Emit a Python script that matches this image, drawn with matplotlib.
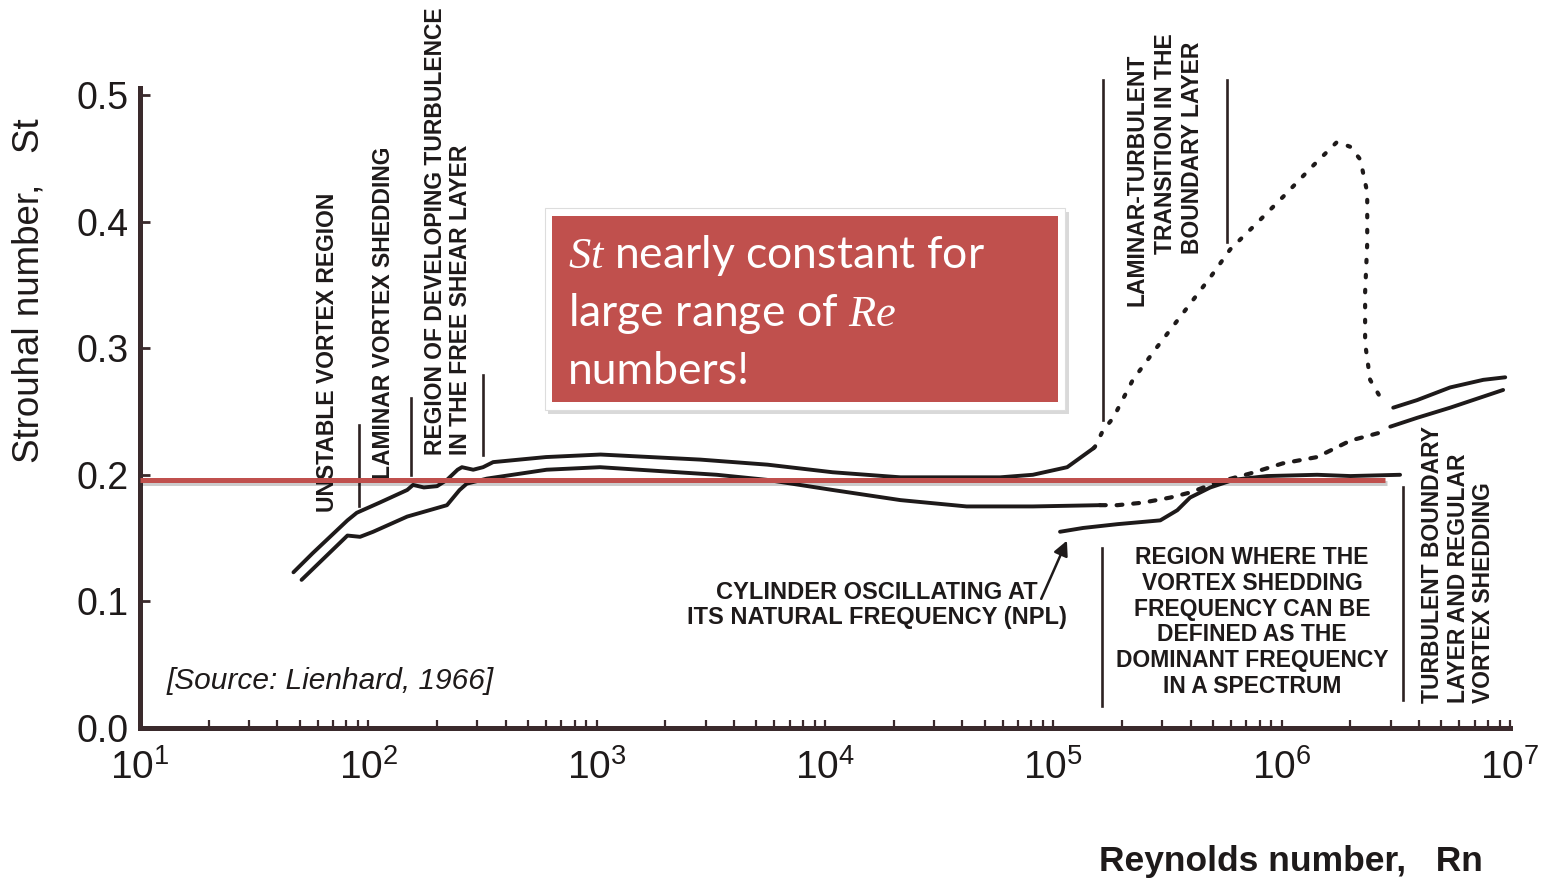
import matplotlib
matplotlib.use('Agg')
import matplotlib.pyplot as plt
import matplotlib.patheffects as pe
from matplotlib.patches import Rectangle
from matplotlib.ticker import LogLocator, FixedLocator, NullFormatter

plt.rcParams['font.family'] = ['Liberation Sans', 'DejaVu Sans']
plt.rcParams['mathtext.fontset'] = 'custom'
plt.rcParams['mathtext.rm'] = 'Liberation Sans'
plt.rcParams['mathtext.it'] = 'Liberation Serif:italic'
plt.rcParams['mathtext.bf'] = 'Liberation Sans:bold'

ink = '#1e1a1a'
axis_col = '#3a2a2c'
red = '#C0504D'

# upper edge of the measured band
re_top = [47, 57, 81, 89, 112, 148, 157, 175, 200, 221, 246, 257, 288, 318, 352,
          600, 1040, 2840, 5600, 10800, 21400, 58500, 81300, 115000, 150000]
st_top = [0.123, 0.138, 0.164, 0.170, 0.178, 0.188, 0.192, 0.190, 0.191, 0.196, 0.204,
          0.206, 0.204, 0.206, 0.210, 0.214, 0.216, 0.212, 0.208, 0.202, 0.198, 0.198,
          0.200, 0.206, 0.221]

# lower edge of the measured band
re_bot = [51, 81, 92, 105, 148, 221, 251, 270, 331, 604, 1035, 3360, 5570, 10800,
          21400, 41700, 81300, 160000]
st_bot = [0.117, 0.152, 0.151, 0.155, 0.167, 0.176, 0.188, 0.193, 0.197, 0.204, 0.206,
          0.200, 0.196, 0.188, 0.180, 0.175, 0.175, 0.176]

# transition branch, upper (dotted)
re_tr_hi = [150000, 152000, 165000, 183000, 223000, 285000, 371000, 487000, 595000,
            781000, 1.02e6, 1.37e6, 1.75e6, 2.0e6, 2.21e6, 2.37e6, 2.37e6, 2.32e6,
            2.32e6, 2.44e6, 2.79e6]
st_tr_hi = [0.221, 0.222, 0.235, 0.245, 0.275, 0.301, 0.328, 0.356, 0.378, 0.399, 0.420,
            0.444, 0.463, 0.459, 0.449, 0.423, 0.383, 0.344, 0.304, 0.275, 0.257]

# transition branch, lower (dashed)
re_tr_lo = [160000, 191000, 247000, 325000, 397000, 521000, 727000, 1.01e6, 1.43e6,
            2.0e6, 2.79e6]
st_tr_lo = [0.176, 0.176, 0.178, 0.182, 0.186, 0.194, 0.201, 0.209, 0.214, 0.227, 0.234]

# supercritical band
re_sup_hi = [3.08e6, 3.92e6, 5.47e6, 7.64e6, 9.53e6]
st_sup_hi = [0.253, 0.259, 0.269, 0.275, 0.277]
re_sup_lo = [2.99e6, 3.92e6, 5.47e6, 9.33e6]
st_sup_lo = [0.238, 0.245, 0.253, 0.267]

# oscillating cylinder (NPL)
re_npl = [107000, 135000, 191000, 294000, 349000, 397000, 487000, 614000, 863000,
          1.43e6, 2.0e6, 3.3e6]
st_npl = [0.155, 0.158, 0.161, 0.164, 0.172, 0.182, 0.190, 0.196, 0.199, 0.200,
          0.199, 0.200]

# regime separators: (Re, St from, St to)
separators = [(91, 0.175, 0.239), (154, 0.200, 0.261), (318, 0.216, 0.279),
              (165000, 0.243, 0.512), (577000, 0.384, 0.512),
              (164000, 0.017, 0.142), (3.4e6, 0.022, 0.190)]

st_const = 0.196
re_const = [10, 2.84e6]

x_major = [1e1, 1e2, 1e3, 1e4, 1e5, 1e6, 1e7]
y_major = [0, 0.1, 0.2, 0.3, 0.4, 0.5]
y_labels = ['0.0', '0.1', '0.2', '0.3', '0.4', '0.5']

W, H = 1546, 882
fig = plt.figure(figsize=(W / 100, H / 100), dpi=100)
ax = fig.add_axes([140 / W, 154 / H, 1370 / W, 640 / H])
ax.set_xscale('log')
ax.set_xlim(10, 1e7)
ax.set_ylim(0, 0.5055)

solid = dict(color=ink, lw=2.8, solid_capstyle='round', solid_joinstyle='round')
ax.plot(re_top, st_top, **solid)
ax.plot(re_bot, st_bot, **solid)
ax.plot(re_sup_hi, st_sup_hi, **solid)
ax.plot(re_sup_lo, st_sup_lo, **solid)
ax.plot(re_npl, st_npl, **solid)
ax.plot(re_tr_hi, st_tr_hi, color=ink, lw=3, linestyle=(0, (0.6, 3.0)),
        dash_capstyle='round')
ax.plot(re_tr_lo, st_tr_lo, color=ink, lw=3, linestyle=(0, (1.4, 2.6)),
        dash_capstyle='round')

for re_s, y0, y1 in separators:
    ax.plot([re_s, re_s], [y0, y1], color='#2d2222', lw=1.9, clip_on=False)

ax.annotate('', xy=(1.16e5, 0.150), xytext=(8.75e4, 0.100),
            arrowprops=dict(arrowstyle='-|>', color=ink, lw=1.8, mutation_scale=22))

ann = dict(color=ink, fontsize=16.5, fontweight='bold', rotation=90,
           ha='center', va='bottom')
ax.text(66.5, 0.171, 'UNSTABLE VORTEX REGION', **ann)
ax.text(117, 0.197, 'LAMINAR VORTEX SHEDDING', **ann)
ax.text(223, 0.216, 'REGION OF DEVELOPING TURBULENCE\nIN THE FREE SHEAR LAYER',
        multialignment='left', linespacing=1.15, **ann)
ax.text(2.33e5, 0.333, 'LAMINAR-TURBULENT', **ann)
ax.text(3.09e5, 0.374, 'TRANSITION IN THE', **ann)
ax.text(4.05e5, 0.374, 'BOUNDARY LAYER', **ann)
ax.text(5.93e6, 0.020, 'TURBULENT BOUNDARY\nLAYER AND REGULAR\nVORTEX SHEDDING',
        multialignment='left', linespacing=1.15, **ann)

ax.text(7.43e5, 0.0837, 'REGION WHERE THE\nVORTEX SHEDDING\nFREQUENCY CAN BE\n'
        'DEFINED AS THE\nDOMINANT FREQUENCY\nIN A SPECTRUM',
        ha='center', va='center', multialignment='center', fontsize=16.5,
        fontweight='bold', color=ink, linespacing=1.15)
ax.text(16900, 0.097, 'CYLINDER OSCILLATING AT\nITS NATURAL FREQUENCY (NPL)',
        ha='center', va='center', multialignment='center', fontsize=17,
        fontweight='bold', color=ink, linespacing=1.1)
ax.text(13.1, 0.037, '[Source: Lienhard, 1966]', style='italic', fontsize=21.5,
        ha='left', va='center', color=ink)

# St ~ 0.2 reference line
ax.plot(re_const, [st_const, st_const], color=red, lw=3.6, solid_capstyle='butt',
        zorder=6, path_effects=[pe.SimpleLineShadow(offset=(1.5, -2.5), alpha=0.2),
                                pe.Normal()])

for side in ['top', 'right']:
    ax.spines[side].set_visible(False)
for side in ['left', 'bottom']:
    ax.spines[side].set_linewidth(3.6)
    ax.spines[side].set_color(axis_col)

ax.yaxis.set_major_locator(FixedLocator(y_major))
ax.set_yticklabels(y_labels)
ax.xaxis.set_major_locator(FixedLocator(x_major))
ax.xaxis.set_minor_locator(LogLocator(base=10, subs=range(2, 10), numticks=20))
ax.xaxis.set_minor_formatter(NullFormatter())
ax.tick_params(axis='y', direction='in', length=7, width=2, color=axis_col,
               labelsize=27, pad=8, labelcolor=ink)
ax.tick_params(axis='x', which='both', direction='in', length=6, width=1.6,
               color=axis_col, labelsize=28, pad=15, labelcolor=ink)

ax.set_ylabel('Strouhal number,   St', fontsize=26.5, color=ink)
ax.yaxis.set_label_coords(-0.068, 0.684)
ax.set_xlabel('Reynolds number,   Rn', fontsize=25.5, fontweight='bold', color=ink,
              loc='right')
ax.xaxis.set_label_coords(0.980, -0.183)

# callout box
def fbox(x0, y0, x1, y1):
    return (x0 / W, 1 - y1 / H), (x1 - x0) / W, (y1 - y0) / H

xy, w, h = fbox(548, 212, 1069, 414)
fig.add_artist(Rectangle(xy, w, h, transform=fig.transFigure, facecolor='black',
                         alpha=0.15, edgecolor='none', zorder=5))
xy, w, h = fbox(545, 208, 1065, 410)
fig.add_artist(Rectangle(xy, w, h, transform=fig.transFigure, facecolor='white',
                         edgecolor='#dddddd', lw=0.8, zorder=5))
xy, w, h = fbox(552, 216, 1058, 402)
fig.add_artist(Rectangle(xy, w, h, transform=fig.transFigure, facecolor=red,
                         edgecolor='none', zorder=6))

box_lines = ['$St$ nearly constant for', 'large range of $Re$', 'numbers!']
for i, line in enumerate(box_lines):
    fig.text(568 / W, 1 - (268 + 58 * i) / H, line, color='white', fontsize=32,
             family=['Lato', 'DejaVu Sans'], va='baseline', ha='left', zorder=7)

fig.savefig('out.png', dpi=100)
